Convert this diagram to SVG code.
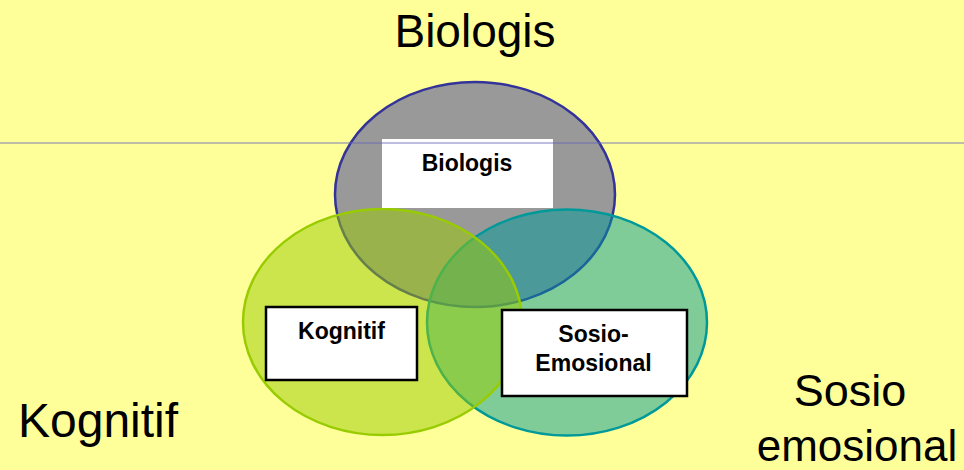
<svg xmlns="http://www.w3.org/2000/svg" width="964" height="470" viewBox="0 0 964 470">
<style>
.big{font-family:"Liberation Sans",Arial,sans-serif;font-size:45px;fill:#000}
.lbl{font-family:"Liberation Sans",Arial,sans-serif;font-size:23px;font-weight:bold;fill:#000;text-anchor:middle}
.box{fill:#fff;stroke:#000;stroke-width:2.5}
</style>
<rect x="0" y="0" width="964" height="470" fill="#FFFF99"/>
<g id="bio-circle">
<ellipse cx="475" cy="194.5" rx="140" ry="112.5" fill="#999999" stroke="#333399" stroke-width="2.5"/>
</g>
<g id="sosio-circle">
<ellipse cx="567" cy="322.5" rx="140" ry="113" fill="#009999" fill-opacity="0.5" stroke="#009999" stroke-width="2.5"/>
</g>
<g id="kognitif-circle">
<ellipse cx="382.5" cy="322" rx="139.5" ry="113" fill="#99CC00" fill-opacity="0.5" stroke="#99CC00" stroke-width="2.5"/>
</g>
<g id="bio-box">
<rect x="382" y="139" width="171" height="69" fill="#fff"/>
<text class="lbl" x="467" y="171">Biologis</text>
</g>
<g id="kognitif-box">
<rect class="box" x="266" y="307" width="151" height="73"/>
<text class="lbl" x="341.5" y="339">Kognitif</text>
</g>
<g id="sosio-box">
<rect class="box" x="502" y="310" width="185" height="86"/>
<text class="lbl" x="593.5" y="342">Sosio-</text>
<text class="lbl" x="593.5" y="371">Emosional</text>
</g>
<g id="connectors">
<line x1="0" y1="143" x2="964" y2="143" stroke="#6666BB" stroke-opacity="0.85" stroke-width="1"/>
</g>
<g id="titles">
<text class="big" x="475" y="47" text-anchor="middle" style="font-size:46px">Biologis</text>
<text class="big" x="18" y="437" style="font-size:48px">Kognitif</text>
<text class="big" x="850" y="406" text-anchor="middle">Sosio</text>
<text class="big" x="857" y="461" text-anchor="middle" style="font-size:44px">emosional</text>
</g>
</svg>
